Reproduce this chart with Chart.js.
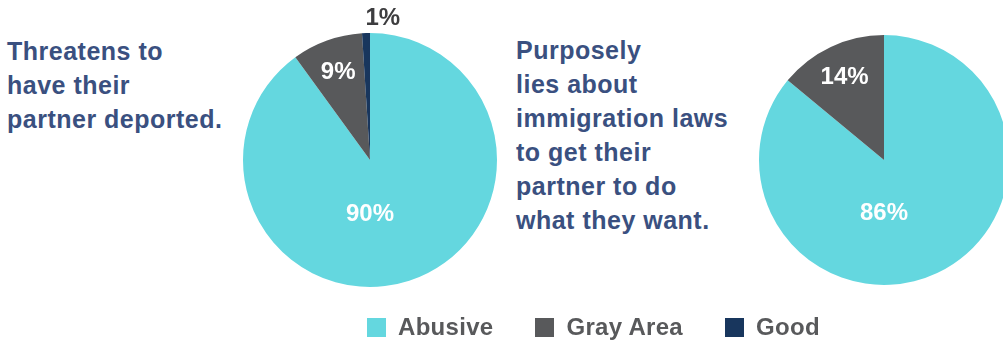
<!DOCTYPE html>
<html>
<head>
<meta charset="utf-8">
<script src="https://cdn.jsdelivr.net/npm/chart.js@4.4.0/dist/chart.umd.min.js"></script>
<style>
  html, body { margin: 0; padding: 0; background: #fff; overflow: hidden; }
  body { width: 1003px; height: 341px; position: relative; font-family: "Liberation Sans", Arial, sans-serif; }
  .question { position: absolute; color: #3a5080; font-weight: bold; font-size: 25px; line-height: 34px; letter-spacing: 0.5px; }
  .pie { position: absolute; top: 0; }
  #legend { position: absolute; left: 367px; top: 313px; display: flex; align-items: center; }
  .item { display: flex; align-items: center; margin-right: 42px; color: #58595b; font-weight: bold; font-size: 24px; letter-spacing: 0.3px; }
  .swatch { width: 19px; height: 19px; margin-right: 12px; }
</style>
</head>
<body>
<div class="question" id="q1" style="left:7px; top:34px;"></div>
<div class="question" id="q2" style="left:516px; top:33px;"></div>
<canvas id="pie1" class="pie" style="left:220px;"></canvas>
<canvas id="pie2" class="pie" style="left:744px;"></canvas>
<div id="legend"></div>

<script>
const categories = ['Abusive', 'Gray Area', 'Good'];
const colors = ['#64d7df', '#58595b', '#18365d'];

const question1 = ['Threatens to', 'have their', 'partner deported.'];
const values1 = [90, 9, 1];

const question2 = ['Purposely', 'lies about', 'immigration laws', 'to get their', 'partner to do', 'what they want.'];
const values2 = [86, 14, 0];

document.getElementById('q1').innerHTML = question1.join('<br>');
document.getElementById('q2').innerHTML = question2.join('<br>');

const legend = document.getElementById('legend');
categories.forEach((name, i) => {
  const item = document.createElement('div');
  item.className = 'item';
  item.innerHTML = '<span class="swatch" style="background:' + colors[i] + '"></span>' + name;
  legend.appendChild(item);
});

// draws the percent labels on (or just outside) each slice
const pctLabels = {
  id: 'pctLabels',
  afterDatasetsDraw(chart) {
    const ctx = chart.ctx;
    const meta = chart.getDatasetMeta(0);
    const data = chart.data.datasets[0].data;
    ctx.save();
    ctx.font = 'bold 24px "Liberation Sans", Arial, sans-serif';
    ctx.textBaseline = 'middle';
    meta.data.forEach((arc, i) => {
      const v = data[i];
      if (!v) return;
      const R = arc.outerRadius;
      let ang = (arc.startAngle + arc.endAngle) / 2;
      let r = 0.74 * R;
      ctx.fillStyle = '#fff';
      ctx.textAlign = 'center';
      if (v > 50) {
        ang = Math.PI / 2;
        r = 0.42 * R;
      } else if (v < 3) {
        r = R + 16;
        ctx.fillStyle = '#3d3d3f';
        ctx.textAlign = 'left';
      }
      ctx.fillText(v + '%', arc.x + Math.cos(ang) * r, arc.y + Math.sin(ang) * r + 1);
    });
    ctx.restore();
  }
};

function makePie(id, values, w, pad) {
  const canvas = document.getElementById(id);
  canvas.width = w;
  canvas.height = 320;
  canvas.style.width = w + 'px';
  canvas.style.height = '320px';
  return new Chart(canvas, {
    type: 'pie',
    data: {
      labels: categories,
      datasets: [{
        data: values,
        backgroundColor: colors,
        borderWidth: 0,
      }],
    },
    options: {
      responsive: false,
      animation: false,
      layout: { padding: pad },
      plugins: {
        legend: { display: false },
        tooltip: { enabled: false },
      },
    },
    plugins: [pctLabels],
  });
}

makePie('pie1', values1, 300, { left: 23, right: 23, top: 33, bottom: 33 });
makePie('pie2', values2, 280, { left: 15, right: 15, top: 35, bottom: 35 });
</script>
</body>
</html>
